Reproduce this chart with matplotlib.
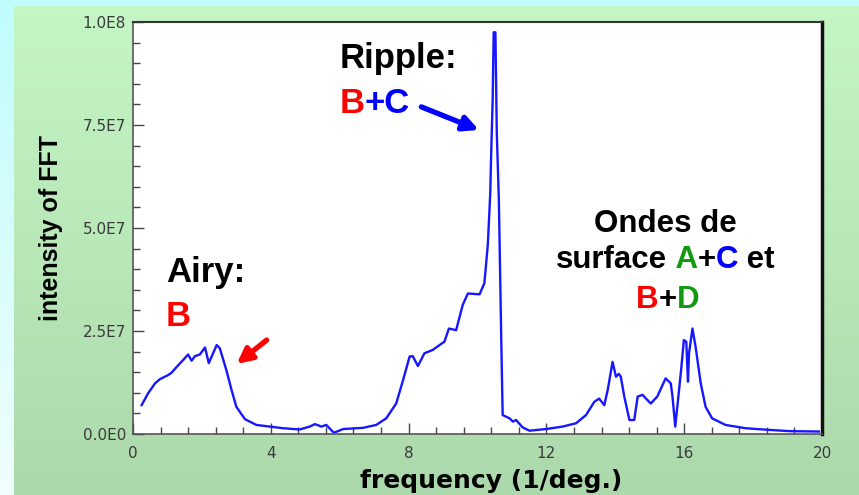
import matplotlib
matplotlib.use("Agg")
import matplotlib.pyplot as plt
import numpy as np
from matplotlib.ticker import MultipleLocator, FixedLocator, FixedFormatter

# FFT spectrum (frequency in 1/deg., intensity in units of 1E6)
freq = [0.25, 0.44, 0.64, 0.78, 1.02, 1.12, 1.27, 1.46, 1.60, 1.70, 1.80, 1.94,
        2.09, 2.20, 2.43, 2.52, 2.71, 2.86, 3.00, 3.25, 3.58, 3.97, 4.36, 4.84,
        5.13, 5.28, 5.47, 5.61, 5.83, 6.10, 6.68, 7.06, 7.35, 7.64, 7.84, 8.03,
        8.12, 8.27, 8.46, 8.70, 8.90, 9.04, 9.17, 9.38, 9.57, 9.72, 10.06, 10.20,
        10.30, 10.37, 10.40, 10.44, 10.47, 10.52, 10.56, 10.62, 10.69, 10.73,
        10.93, 11.03, 11.12, 11.31, 11.51, 11.99, 12.47, 12.86, 13.15, 13.39,
        13.53, 13.68, 13.78, 13.92, 14.02, 14.10, 14.16, 14.26, 14.41, 14.55,
        14.65, 14.79, 15.03, 15.22, 15.46, 15.61, 15.66, 15.74, 15.81, 15.91,
        15.99, 16.06, 16.11, 16.14, 16.24, 16.33, 16.48, 16.62, 16.81, 17.20,
        17.78, 18.46, 19.04, 19.91]
intensity = [7.0, 9.9, 12.3, 13.3, 14.3, 14.9, 16.3, 18.0, 19.3, 17.8, 18.9, 19.3,
             21.0, 17.2, 21.6, 20.8, 15.5, 10.7, 6.6, 3.6, 2.2, 1.8, 1.4, 1.1,
             1.8, 2.4, 1.8, 2.2, 0.3, 1.2, 1.5, 2.2, 3.8, 7.4, 13.1, 18.8,
             18.9, 16.5, 19.6, 20.4, 21.6, 22.4, 25.6, 25.2, 31.3, 34.1, 33.9, 36.6,
             46.0, 58.4, 68.9, 81.1, 97.5, 97.5, 73.0, 56.8, 22.8, 4.6,
             3.8, 3.0, 3.4, 1.6, 0.8, 1.2, 1.8, 2.6, 4.6, 7.8,
             8.6, 7.0, 10.7, 17.5, 13.9, 14.6, 13.9, 9.1, 3.4, 3.4,
             9.1, 9.5, 7.4, 9.1, 13.5, 12.3, 9.1, 1.8, 7.4, 15.5,
             22.8, 22.4, 12.7, 19.6, 25.6, 21.2, 12.3, 6.6, 3.8, 2.2,
             1.4, 1.0, 0.7, 0.6]

y_ticks = [0, 2.5e7, 5.0e7, 7.5e7, 1.0e8]
y_tick_labels = ["0.0E0", "2.5E7", "5.0E7", "7.5E7", "1.0E8"]
x_ticks = [0, 4, 8, 12, 16, 20]

RED = "#ff0000"
BLUE = "#0000ff"
GREEN = "#109a10"
BOLD = ["Liberation Sans", "DejaVu Sans"]

W, H = 859, 495
fig = plt.figure(figsize=(W / 100, H / 100), dpi=100)

# slide-style background: cyan border strips and a green gradient panel
bg = fig.add_axes([0, 0, 1, 1], zorder=-10)
rows = np.linspace(0, 1, H)[:, None, None]
img = np.ones((H, W, 3))
cyan_top = np.array([192, 252, 252]) / 255
cyan_bot = np.array([240, 254, 254]) / 255
green_top = np.array([197, 246, 197]) / 255
green_bot = np.array([172, 217, 172]) / 255
img[:] = cyan_top + (cyan_bot - cyan_top) * rows
img[6:, 14:] = (green_top + (green_bot - green_top) * rows)[6:]
img[:6, :] = cyan_top
bg.imshow(img, aspect="auto", interpolation="bilinear")
bg.axis("off")

ax = fig.add_axes([133 / W, 1 - 434 / H, (822 - 133) / W, (434 - 22) / H])
ax.set_facecolor("white")
ax.plot(freq, np.array(intensity) * 1e6, color="#1616ff", lw=1.7,
        solid_joinstyle="round")

ax.set_xlim(0, 20)
ax.set_ylim(0, 1.0e8)
ax.xaxis.set_major_locator(FixedLocator(x_ticks))
ax.xaxis.set_minor_locator(MultipleLocator(0.8))
ax.yaxis.set_major_locator(FixedLocator(y_ticks))
ax.yaxis.set_major_formatter(FixedFormatter(y_tick_labels))
ax.yaxis.set_minor_locator(MultipleLocator(5e6))
ax.tick_params(which="both", direction="in", color="#444444", width=1)
ax.tick_params(which="major", length=8, labelsize=11, labelcolor="#3a3a3a")
ax.tick_params(which="minor", length=5)
ax.tick_params(axis="x", pad=9)
ax.tick_params(axis="y", pad=5)

for side in ("left", "bottom"):
    ax.spines[side].set_color("#555555")
    ax.spines[side].set_linewidth(1.2)
ax.spines["top"].set_color("#333333")
ax.spines["top"].set_linewidth(1.5)
ax.spines["right"].set_color("#111111")
ax.spines["right"].set_linewidth(2.5)

ax.set_xlabel("frequency (1/deg.)", fontsize=18, fontweight="bold")
ax.xaxis.set_label_coords(0.52, -0.085)
ax.set_ylabel("intensity of FFT", fontsize=18, fontweight="bold", family=BOLD)
ax.yaxis.set_label_coords(-0.102, 0.5)


def colored_line(x, y, pieces, size):
    """Write a run of differently coloured bold pieces on one baseline."""
    t = ax.text(x, y, pieces[0][0], color=pieces[0][1], fontsize=size,
                fontweight="bold", family=BOLD, va="baseline", ha="left",
                clip_on=False)
    for txt, col in pieces[1:]:
        t = ax.annotate(txt, xy=(1, 0), xycoords=t, va="bottom", ha="left",
                        color=col, fontsize=size, fontweight="bold",
                        family=BOLD, annotation_clip=False)
    return t


colored_line(6.0, 88.8e6, [("Ripple:", "black")], 25)
colored_line(6.0, 77.9e6, [("B", RED), ("+C", BLUE)], 25)
colored_line(0.96, 36.9e6, [("Airy:", "black")], 25)
colored_line(0.96, 26.2e6, [("B", RED)], 25)

ax.text(15.45, 49.0e6, "Ondes de", fontsize=22.5, fontweight="bold",
        family=BOLD, ha="center", va="baseline")
colored_line(12.29, 40.3e6, [("surface", "black"), (" A", GREEN), ("+", "black"),
                             ("C", BLUE), (" et", "black")], 22.5)
colored_line(14.6, 30.6e6, [("B", RED), ("+", "black"), ("D", GREEN)], 22.5)

ax.annotate("", xy=(10.04, 73.8e6), xytext=(8.37, 79.4e6),
            arrowprops=dict(arrowstyle="-|>,head_length=0.9,head_width=0.45",
                            color=BLUE, lw=3.8, shrinkA=0, shrinkB=0))
ax.annotate("", xy=(3.01, 17.0e6), xytext=(3.88, 22.8e6),
            arrowprops=dict(arrowstyle="-|>,head_length=0.9,head_width=0.45",
                            color=RED, lw=3.8, shrinkA=0, shrinkB=0))

fig.savefig("out.png", dpi=100)
